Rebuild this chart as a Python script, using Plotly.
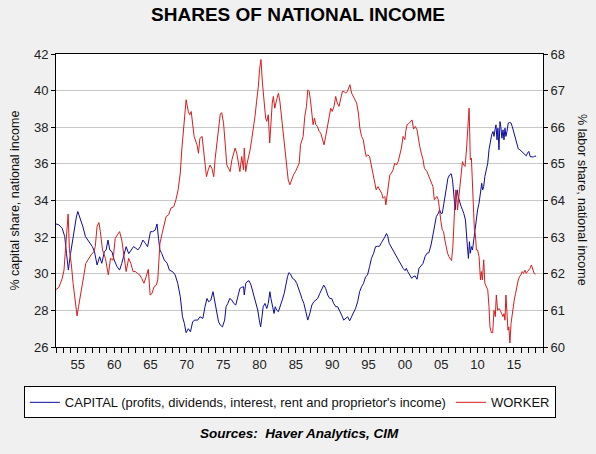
import plotly.graph_objs as go

# capital share of national income (left axis, %)
cap_year = [1952.0, 1952.4, 1952.85, 1953.2, 1953.45, 1953.7, 1954.0, 1954.2, 1954.5, 1954.8,
            1955.0, 1955.4, 1955.7, 1956.05, 1956.5, 1957.0, 1957.3, 1957.65, 1958.0, 1958.3,
            1958.65, 1958.9, 1959.15, 1959.4, 1959.7, 1960.0, 1960.4, 1960.75, 1961.05, 1961.4,
            1961.65, 1962.0, 1962.3, 1962.67, 1963.0, 1963.27, 1963.6, 1963.95, 1964.3, 1964.6,
            1965.0, 1965.3, 1965.65, 1965.9, 1966.1, 1966.3, 1966.55, 1966.9, 1967.3, 1967.6,
            1968.05, 1968.4, 1968.75, 1969.1, 1969.4, 1969.66, 1969.9, 1970.2, 1970.5, 1970.8,
            1971.1, 1971.5, 1971.8, 1972.2, 1972.5, 1972.77, 1973.0, 1973.3, 1973.6, 1973.9,
            1974.13, 1974.36, 1974.6, 1974.9, 1975.2, 1975.4, 1975.64, 1975.9, 1976.2, 1976.46,
            1976.73, 1977.0, 1977.3, 1977.55, 1977.8, 1977.9, 1978.1, 1978.3, 1978.56, 1978.83,
            1979.15, 1979.47, 1979.75, 1979.97, 1980.15, 1980.34, 1980.5, 1980.75, 1981.0, 1981.2,
            1981.43, 1981.57, 1981.75, 1982.0, 1982.16, 1982.35, 1982.6, 1982.85, 1983.12, 1983.4,
            1983.63, 1983.85, 1984.04, 1984.27, 1984.54, 1984.86, 1985.13, 1985.4, 1985.68, 1985.82,
            1986.1, 1986.37, 1986.64, 1986.92, 1987.2, 1987.47, 1987.74, 1988.0, 1988.3, 1988.56,
            1988.84, 1989.1, 1989.38, 1989.66, 1989.93, 1990.2, 1990.48, 1990.75, 1991.0, 1991.3,
            1991.58, 1991.85, 1992.12, 1992.4, 1992.67, 1992.95, 1993.2, 1993.5, 1993.77, 1994.04,
            1994.3, 1994.6, 1994.86, 1995.14, 1995.4, 1995.7, 1995.96, 1996.23, 1996.5, 1996.78,
            1997.0, 1997.2, 1997.47, 1997.65, 1997.84, 1998.1, 1998.38, 1998.66, 1998.93, 1999.2,
            1999.48, 1999.75, 2000.03, 2000.2, 2000.4, 2000.67, 2000.94, 2001.12, 2001.4, 2001.67,
            2001.94, 2002.2, 2002.5, 2002.77, 2003.04, 2003.3, 2003.6, 2003.86, 2004.14, 2004.32,
            2004.6, 2004.78, 2004.96, 2005.14, 2005.37, 2005.55, 2005.73, 2005.92, 2006.15, 2006.37,
            2006.55, 2006.74, 2006.92, 2007.06, 2007.2, 2007.33, 2007.56, 2007.74, 2007.92, 2008.1,
            2008.33, 2008.47, 2008.6, 2008.74, 2008.88, 2009.0, 2009.15, 2009.3, 2009.47, 2009.66,
            2009.84, 2010.0, 2010.2, 2010.4, 2010.57, 2010.7, 2010.84, 2011.0, 2011.2, 2011.4,
            2011.57, 2011.76, 2011.94, 2012.12, 2012.26, 2012.4, 2012.53, 2012.67, 2012.8, 2012.94,
            2013.08, 2013.2, 2013.35, 2013.5, 2013.63, 2013.77, 2013.9, 2014.04, 2014.22, 2014.4,
            2014.6, 2014.77, 2014.95, 2015.18, 2015.4, 2015.6, 2015.82, 2016.05, 2016.28, 2016.5,
            2016.7, 2016.87, 2017.05, 2017.23, 2017.46, 2017.7, 2017.87, 2018.06]
cap_pct = [32.72, 32.67, 32.48, 32.03, 31.1, 30.2, 31.1, 31.66, 32.4, 33.1,
           33.4, 32.94, 32.57, 32.03, 31.75, 31.48, 31.2, 30.48, 30.93, 30.57,
           31.2, 31.3, 31.84, 31.3, 31.2, 30.75, 30.39, 30.2, 30.57, 31.2,
           31.48, 31.1, 31.3, 31.48, 31.39, 31.3, 31.48, 31.84, 31.66, 31.48,
           32.3, 32.3, 32.39, 32.72, 31.94, 31.3, 31.1, 30.75, 30.57, 30.2,
           30.11, 29.93, 29.47, 28.75, 27.65, 27.29, 26.78, 27.0, 26.83, 27.38,
           27.47, 27.47, 27.65, 27.56, 28.2, 28.65, 28.47, 28.56, 29.02, 28.3,
           27.83, 27.38, 27.2, 27.1, 27.47, 28.2, 28.38, 28.65, 28.56, 28.38,
           28.29, 28.75, 29.2, 29.26, 29.29, 28.84, 29.47, 29.57, 29.62, 29.38,
           28.93, 28.56, 28.02, 27.47, 27.1, 27.65, 28.2, 28.38, 28.1, 28.38,
           29.02, 28.65, 28.2, 27.83, 28.2, 28.02, 27.93, 28.2, 28.56, 28.93,
           29.47, 29.84, 30.06, 29.98, 29.75, 29.66, 29.47, 29.2, 28.84, 28.65,
           28.38, 27.93, 27.47, 27.83, 28.29, 28.47, 28.56, 28.65, 28.93, 29.15,
           29.38, 29.2, 28.84, 28.65, 28.65, 28.38, 28.2, 28.2, 28.02, 27.74,
           27.47, 27.56, 27.65, 27.43, 27.65, 27.93, 28.1, 28.47, 29.02, 29.29,
           29.47, 29.84, 29.93, 30.39, 30.84, 31.12, 31.48, 31.5, 31.5, 31.7,
           31.9, 31.98, 32.2, 32.03, 31.66, 31.48, 31.3, 31.03, 30.84, 30.66,
           30.48, 30.3, 30.17, 30.3, 30.11, 29.93, 29.75, 29.84, 29.88, 29.7,
           30.3, 30.42, 30.57, 30.93, 31.12, 31.15, 31.57, 32.12, 32.76, 33.12,
           33.3, 33.49, 33.3, 33.3, 33.85, 34.4, 34.94, 35.22, 35.4, 35.46,
           35.13, 34.4, 33.49, 34.22, 34.58, 34.22, 33.85, 33.67, 33.49, 33.3,
           32.94, 32.39, 31.48, 30.84, 31.75, 31.12, 31.48, 31.3, 31.84, 32.57,
           33.12, 33.49, 33.85, 34.58, 34.94, 34.58, 34.76, 35.31, 35.67, 36.04,
           36.77, 37.31, 37.59, 37.77, 37.5, 37.86, 38.13, 37.31, 37.95, 36.77,
           38.31, 38.04, 37.4, 37.86, 37.31, 37.95, 37.5, 37.77, 38.23, 38.26,
           38.23, 38.04, 37.77, 37.4, 37.13, 36.82, 36.77, 36.68, 36.63, 36.55,
           36.44, 36.59, 36.68, 36.4, 36.37, 36.37, 36.44, 36.4]

# labor share of national income (right axis, %)
wrk_year = [1952.0, 1952.4, 1952.85, 1953.1, 1953.3, 1953.5, 1953.67, 1953.85, 1954.1, 1954.35,
            1954.7, 1954.9, 1955.1, 1955.45, 1955.8, 1956.1, 1956.5, 1956.8, 1957.2, 1957.4,
            1957.65, 1957.9, 1958.1, 1958.4, 1958.8, 1959.0, 1959.2, 1959.5, 1959.85, 1960.15,
            1960.5, 1960.75, 1961.05, 1961.4, 1961.65, 1962.0, 1962.3, 1962.6, 1962.9, 1963.2,
            1963.5, 1963.8, 1964.1, 1964.4, 1964.7, 1964.95, 1965.2, 1965.5, 1965.8, 1966.0,
            1966.15, 1966.3, 1966.6, 1966.9, 1967.15, 1967.5, 1967.8, 1968.2, 1968.5, 1968.8,
            1969.1, 1969.3, 1969.57, 1969.75, 1969.9, 1970.2, 1970.4, 1970.6, 1970.8, 1971.0,
            1971.4, 1971.6, 1971.8, 1972.1, 1972.3, 1972.5, 1972.7, 1972.95, 1973.2, 1973.45,
            1973.7, 1973.9, 1974.13, 1974.36, 1974.6, 1974.8, 1975.05, 1975.27, 1975.5, 1975.73,
            1975.95, 1976.2, 1976.4, 1976.64, 1976.87, 1977.1, 1977.3, 1977.55, 1977.8, 1977.9,
            1978.1, 1978.3, 1978.47, 1978.7, 1978.92, 1979.15, 1979.38, 1979.6, 1979.84, 1980.0,
            1980.2, 1980.4, 1980.6, 1980.84, 1981.0, 1981.2, 1981.4, 1981.6, 1981.75, 1981.9,
            1982.1, 1982.35, 1982.6, 1982.8, 1983.03, 1983.26, 1983.5, 1983.7, 1983.95, 1984.17,
            1984.4, 1984.68, 1984.95, 1985.23, 1985.46, 1985.64, 1985.82, 1986.0, 1986.23, 1986.46,
            1986.64, 1986.83, 1987.0, 1987.2, 1987.37, 1987.56, 1987.74, 1987.97, 1988.2, 1988.42,
            1988.65, 1988.88, 1989.1, 1989.34, 1989.57, 1989.8, 1990.0, 1990.25, 1990.48, 1990.7,
            1990.94, 1991.16, 1991.4, 1991.62, 1991.85, 1992.08, 1992.3, 1992.44, 1992.67, 1992.9,
            1993.13, 1993.36, 1993.6, 1993.8, 1994.04, 1994.27, 1994.5, 1994.68, 1994.9, 1995.14,
            1995.37, 1995.6, 1995.8, 1996.05, 1996.28, 1996.55, 1996.8, 1997.0, 1997.24, 1997.38,
            1997.56, 1997.74, 1997.93, 1998.15, 1998.38, 1998.6, 1998.84, 1999.07, 1999.3, 1999.52,
            1999.75, 2000.0, 2000.12, 2000.3, 2000.53, 2000.75, 2000.98, 2001.2, 2001.44, 2001.67,
            2001.85, 2002.04, 2002.26, 2002.5, 2002.68, 2002.86, 2003.04, 2003.22, 2003.4, 2003.63,
            2003.86, 2004.05, 2004.23, 2004.4, 2004.6, 2004.78, 2004.96, 2005.14, 2005.32, 2005.5,
            2005.7, 2005.87, 2006.05, 2006.24, 2006.42, 2006.6, 2006.74, 2006.88, 2007.0, 2007.15,
            2007.24, 2007.38, 2007.56, 2007.74, 2007.92, 2008.1, 2008.28, 2008.47, 2008.6, 2008.74,
            2008.83, 2008.92, 2009.0, 2009.15, 2009.3, 2009.43, 2009.56, 2009.7, 2009.84, 2010.0,
            2010.2, 2010.4, 2010.52, 2010.66, 2010.84, 2011.0, 2011.2, 2011.4, 2011.57, 2011.7,
            2011.9, 2012.08, 2012.26, 2012.44, 2012.58, 2012.76, 2012.94, 2013.13, 2013.3, 2013.5,
            2013.63, 2013.77, 2013.9, 2014.04, 2014.18, 2014.3, 2014.45, 2014.6, 2014.72, 2014.86,
            2015.04, 2015.22, 2015.4, 2015.6, 2015.77, 2015.96, 2016.14, 2016.32, 2016.5, 2016.7,
            2016.87, 2017.05, 2017.23, 2017.4, 2017.6, 2017.78, 2017.97]
wrk_pct = [61.57, 61.63, 61.87, 62.1, 62.65, 63.38, 63.63, 62.65, 62.28, 61.74,
           61.1, 60.85, 61.1, 61.46, 61.92, 62.28, 62.42, 62.51, 62.6, 62.74,
           63.29, 63.4, 63.15, 62.65, 62.42, 62.2, 61.97, 62.42, 62.37, 62.97,
           63.1, 63.15, 62.92, 62.47, 62.06, 62.42, 62.28, 62.06, 62.06, 62.01,
           61.97, 61.87, 61.74, 61.92, 62.12, 61.42, 61.46, 61.65, 61.69, 61.83,
           62.47, 62.83, 63.1, 63.38, 63.56, 63.61, 63.79, 63.83, 64.02, 64.29,
           64.75, 65.38, 66.02, 66.48, 66.75, 66.43, 66.34, 66.43, 66.16, 65.75,
           65.52, 65.29, 65.7, 65.75, 65.38, 64.97, 64.65, 64.84, 64.97, 64.88,
           64.65, 65.15, 65.6, 66.07, 66.36, 66.4, 66.11, 65.57, 64.97, 64.88,
           64.79, 65.11, 65.25, 65.43, 65.29, 65.02, 64.79, 65.2, 64.84, 65.43,
           64.79, 65.02, 65.16, 65.38, 65.66, 65.93, 66.3, 66.71, 67.12, 67.57,
           67.85, 67.21, 66.66, 66.25, 66.16, 66.34, 65.57, 66.25, 66.66, 66.84,
           66.52, 66.75, 66.93, 66.71, 66.3, 65.84, 65.38, 64.93, 64.56, 64.43,
           64.56, 64.7, 64.79, 64.93, 65.02, 65.52, 65.68, 65.75, 66.3, 66.57,
           67.02, 66.98, 66.75, 66.39, 66.07, 66.25, 66.07, 66.02, 65.89, 65.84,
           65.66, 65.52, 65.75, 66.02, 66.34, 66.52, 66.43, 66.57, 66.84, 66.66,
           66.57, 66.8, 66.98, 66.98, 66.93, 66.98, 67.07, 67.16, 66.93, 66.84,
           66.75, 66.66, 66.39, 65.98, 65.75, 65.66, 65.38, 65.2, 65.25, 65.2,
           64.97, 64.75, 64.56, 64.29, 64.38, 64.29, 64.2, 64.06, 64.11, 63.88,
           64.2, 64.47, 64.7, 64.75, 64.84, 65.02, 64.97, 65.06, 65.25, 65.43,
           65.75, 65.66, 65.89, 66.07, 66.1, 66.16, 66.2, 65.95, 66.02, 65.93,
           65.66, 65.48, 65.29, 65.11, 64.88, 64.84, 64.79, 64.7, 64.61, 64.52,
           64.38, 64.02, 64.06, 64.11, 64.02, 63.65, 63.42, 63.2, 63.15, 62.92,
           62.65, 62.56, 62.47, 62.39, 62.36, 62.74, 63.56, 63.93, 64.29, 64.06,
           63.74, 64.02, 64.38, 64.75, 65.06, 64.97, 64.93, 65.38, 65.93, 66.52,
           66.52, 65.84, 65.11, 65.16, 64.47, 63.83, 63.2, 63.06, 62.65, 62.65,
           62.47, 61.83, 62.06, 61.83, 62.38, 61.74, 61.65, 61.56, 61.1, 60.55,
           60.39, 60.39, 61.0, 60.83, 61.42, 61.0, 61.05, 61.0, 60.91, 60.83,
           60.91, 60.73, 61.42, 61.0, 60.46, 60.55, 60.11, 60.64, 60.83, 61.1,
           61.28, 61.46, 61.65, 61.83, 61.92, 61.97, 62.06, 62.01, 62.1, 62.01,
           62.06, 62.1, 62.15, 62.24, 62.1, 62.01, 61.99]

tick_years = list(range(1955, 2020, 5))
tick_text = ['55', '60', '65', '70', '75', '80', '85', '90', '95', '00', '05', '10', '15']

font_family = 'Arial, Liberation Sans, sans-serif'

fig = go.Figure()
fig.add_trace(go.Scatter(x = cap_year, y = cap_pct, mode = 'lines',
                         name = "CAPITAL (profits, dividends, interest, rent and proprietor's income)",
                         line = dict(color = '#0C0CA0', width = 1)))
fig.add_trace(go.Scatter(x = wrk_year, y = wrk_pct, mode = 'lines', name = 'WORKER', yaxis = 'y2',
                         line = dict(color = '#D81C1C', width = 1)))

axis_font = dict(family = font_family, size = 13, color = '#222222')

fig.update_layout(
    width = 596, height = 454,
    paper_bgcolor = '#F0F0F0', plot_bgcolor = 'white',
    margin = dict(l = 56, r = 53, t = 54, b = 107, autoexpand = False),
    font = dict(family = font_family, color = '#111111'),
    title = dict(text = '<b>SHARES OF NATIONAL INCOME</b>', x = 0.5, xanchor = 'center',
                 y = 0.968, yanchor = 'middle', font = dict(size = 19, color = 'black')),
    xaxis = dict(range = [1952, 2019], tickmode = 'array', tickvals = tick_years, ticktext = tick_text,
                 ticks = 'outside', ticklen = 5, tickcolor = 'black', showgrid = False, zeroline = False,
                 showline = True, linecolor = 'black', linewidth = 1, mirror = True,
                 tickfont = axis_font,
                 minor = dict(tickmode = 'linear', tick0 = 1952, dtick = 1, ticks = 'outside',
                              ticklen = 5, tickcolor = 'black', showgrid = False)),
    yaxis = dict(range = [26, 42], dtick = 2, ticks = 'outside', ticklen = 4, tickcolor = 'black',
                 showgrid = True, gridcolor = '#C8C8C8', gridwidth = 1, zeroline = False,
                 showline = True, linecolor = 'black', linewidth = 1, tickfont = axis_font),
    yaxis2 = dict(range = [60, 68], dtick = 1, overlaying = 'y', side = 'right', ticks = 'outside',
                  ticklen = 4, tickcolor = 'black', showgrid = False, zeroline = False,
                  showline = True, linecolor = 'black', linewidth = 1, tickfont = axis_font),
    # anchored left of the plot area so the legend may use the full width in one row
    legend = dict(orientation = 'h', x = -0.066, xanchor = 'left', y = -0.189, yanchor = 'middle',
                  bgcolor = 'white', bordercolor = 'black', borderwidth = 1,
                  font = dict(family = font_family, size = 13, color = '#111111'),
                  itemwidth = 30),
    showlegend = True,
)

# axis titles and source note
fig.add_annotation(text = '% capital share, national income', xref = 'paper', yref = 'paper',
                   x = -0.086, xanchor = 'center', y = 0.5, textangle = -90, showarrow = False,
                   font = dict(size = 12.5, color = '#111111'))
fig.add_annotation(text = '% labor share, national income', xref = 'paper', yref = 'paper',
                   x = 1.081, xanchor = 'center', y = 0.5, textangle = 90, showarrow = False,
                   font = dict(size = 12.5, color = '#111111'))
fig.add_annotation(text = '<b><i>Sources:\u00a0 Haver Analytics, CIM</i></b>', xref = 'paper', yref = 'paper',
                   x = 0.5, y = -0.329, showarrow = False,
                   font = dict(size = 13.5, color = 'black'))

fig.write_html("out.html", config = {'displayModeBar': False},
               post_script = "document.body.style.margin = '0px';")
